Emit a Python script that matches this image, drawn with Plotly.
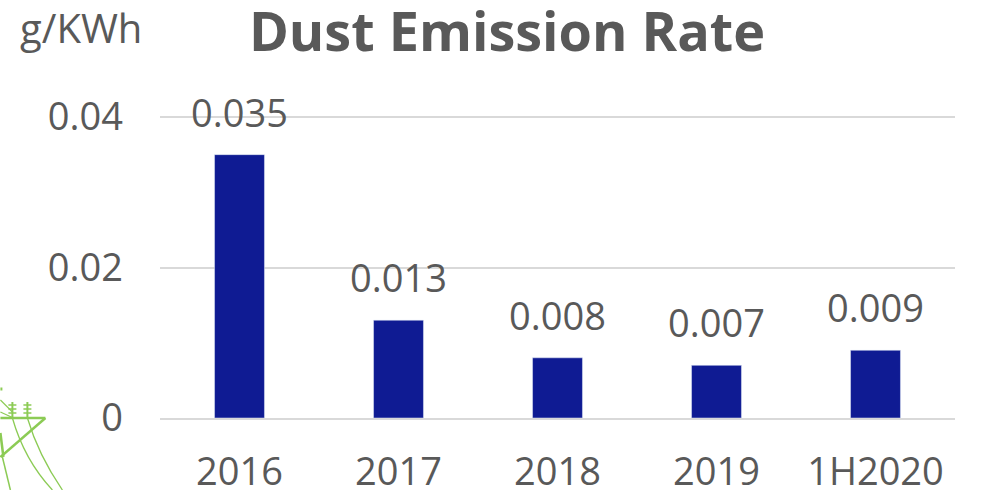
import plotly.graph_objects as go

categories = ["2016", "2017", "2018", "2019", "1H2020"]
values = [0.035, 0.013, 0.008, 0.007, 0.009]
labels = ["0.035", "0.013", "0.008", "0.007", "0.009"]
tick_vals = [0, 0.02, 0.04]
tick_text = ["0", "0.02", "0.04"]
FONT = "Open Sans, Noto Sans, sans-serif"
GREY = "#595959"
GREEN = "#8CCB55"
W, H = 990, 490
LEFT, RIGHT, TOP, BOTTOM = 159.6, 954.6, 115, 418


def px(x):
    return (x - LEFT) / (RIGHT - LEFT)


def py(y):
    return (BOTTOM - y) / (BOTTOM - TOP)


def line(x0, y0, x1, y1, width=2):
    return dict(type="line", xref="paper", yref="paper", x0=px(x0), y0=py(y0), x1=px(x1), y1=py(y1),
                line=dict(color=GREEN, width=width))


def curve(x0, y0, cx, cy, x1, y1):
    d = f"M {px(x0)} {py(y0)} Q {px(cx)} {py(cy)} {px(x1)} {py(y1)}"
    return dict(type="path", xref="paper", yref="paper", path=d, line=dict(color=GREEN, width=1.3))


pylon = [
    line(0, 418, 45, 418, 2.5), line(45, 418, 0, 457, 2.5), line(0, 433, 3, 457, 2.5), line(2, 457, 10, 490, 1.5),
    line(0, 400, 12, 412, 1.2), line(0, 412, 13, 418, 1.2),
    curve(12, 418, 24, 460, 52, 490), curve(27, 418, 38, 455, 62, 490),
    line(12, 402, 12, 418, 2), line(27, 402, 27, 418, 2),
    line(8, 405, 16, 405, 1.5), line(8, 409, 16, 409, 1.5), line(8, 413, 16, 413, 1.5),
    line(23, 405, 31, 405, 1.5), line(23, 409, 31, 409, 1.5), line(23, 413, 31, 413, 1.5),
    line(0, 389, 2, 389, 3),
]

fig = go.Figure()
fig.add_bar(x=categories, y=values, marker_color="#0F1B93", width=0.314)
fig.add_scatter(x=categories, y=values, mode="markers+text", text=labels, textposition="top center",
                textfont=dict(size=38, color=GREY, family=FONT), cliponaxis=False,
                marker=dict(size=28, opacity=0), hoverinfo="skip")
fig.update_layout(
    width=W, height=H, autosize=False, paper_bgcolor="white", plot_bgcolor="white",
    margin=dict(l=LEFT, r=W - RIGHT, t=TOP, b=H - BOTTOM, autoexpand=False), showlegend=False,
    font=dict(family=FONT, color=GREY),
    title=dict(text="<b>Dust Emission Rate</b>", x=507 / W, xanchor="center", y=1 - 32 / H, yanchor="middle",
               font=dict(size=54, color=GREY, family=FONT)),
    xaxis=dict(showline=True, linecolor="#D9D9D9", linewidth=2, tickfont=dict(size=38, color=GREY), ticks="",
               ticklabelstandoff=19),
    yaxis=dict(range=[0, 0.04027], tickvals=tick_vals, ticktext=tick_text, gridcolor="#D9D9D9", gridwidth=2,
               zeroline=False, tickfont=dict(size=38, color=GREY), ticks="", ticklabelstandoff=36),
    annotations=[dict(text="g/KWh", x=px(81), y=py(27), xref="paper", yref="paper", showarrow=False,
                      xanchor="center", yanchor="middle", font=dict(size=40, color=GREY))],
    shapes=pylon,
)
fig.write_html("out.html", post_script="document.body.style.margin='0';", config=dict(displayModeBar=False))
